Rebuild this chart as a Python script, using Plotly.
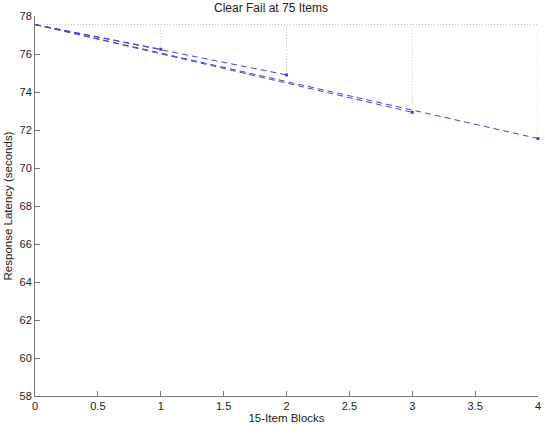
import plotly.graph_objects as go

blocks = [1, 2, 3, 4]
start_latency = 77.55
end_latency = [76.25, 74.9, 72.93, 71.55]
x_ticks = [0, 0.5, 1, 1.5, 2, 2.5, 3, 3.5, 4]
y_ticks = list(range(58, 80, 2))

line_color = "rgb(70,70,205)"
dot_color = "rgb(190,190,200)"

fig = go.Figure()

# dotted reference lines
fig.add_trace(go.Scatter(x=[0, max(blocks)], y=[start_latency, start_latency], mode="lines",
                         line=dict(color=dot_color, width=1, dash="1px,2px"), showlegend=False,
                         hoverinfo="skip", cliponaxis=False))
for b, e in zip(blocks, end_latency):
    fig.add_trace(go.Scatter(x=[b, b], y=[e, start_latency], mode="lines",
                             line=dict(color=dot_color, width=1, dash="1px,2px"), showlegend=False,
                             hoverinfo="skip", cliponaxis=False))

for b, e in zip(blocks, end_latency):
    fig.add_trace(go.Scatter(x=[0, b], y=[start_latency, e], mode="lines",
                             line=dict(color=line_color, width=1, dash="6px,4px"), showlegend=False,
                             cliponaxis=False))
    fig.add_trace(go.Scatter(x=[b], y=[e], mode="markers",
                             marker=dict(color=line_color, size=3, symbol="square"), showlegend=False,
                             cliponaxis=False))

font = "Liberation Sans, Arial, sans-serif"
fig.add_annotation(text="Clear Fail at 75 Items", xref="paper", yref="paper",
                   x=(272.5 - 35) / 506, y=1, xanchor="center", yanchor="top",
                   yshift=16, showarrow=False, borderpad=0,
                   font=dict(size=12, color="#222", family=font))
fig.update_layout(
    width=545, height=434,
    margin=dict(l=35, r=4, t=16, b=38),
    paper_bgcolor="white", plot_bgcolor="white",
    font=dict(family=font, size=11, color="#222"),
    xaxis=dict(range=[0, 4], tickvals=x_ticks, ticktext=[f"{v:g}" for v in x_ticks],
               ticks="inside", ticklen=5, tickcolor="#777", showline=True, linecolor="#777",
               linewidth=1, showgrid=False, zeroline=False, mirror=False,
               title=dict(text="15-Item Blocks", standoff=2, font=dict(size=11.5))),
    yaxis=dict(range=[58, 78], tickvals=y_ticks,
               ticks="inside", ticklen=5, tickcolor="#777", showline=True, linecolor="#777",
               linewidth=1, showgrid=False, zeroline=False, mirror=False,
               title=dict(text="Response Latency (seconds)", standoff=4, font=dict(size=11.5))),
)

fig.write_html("out.html")
